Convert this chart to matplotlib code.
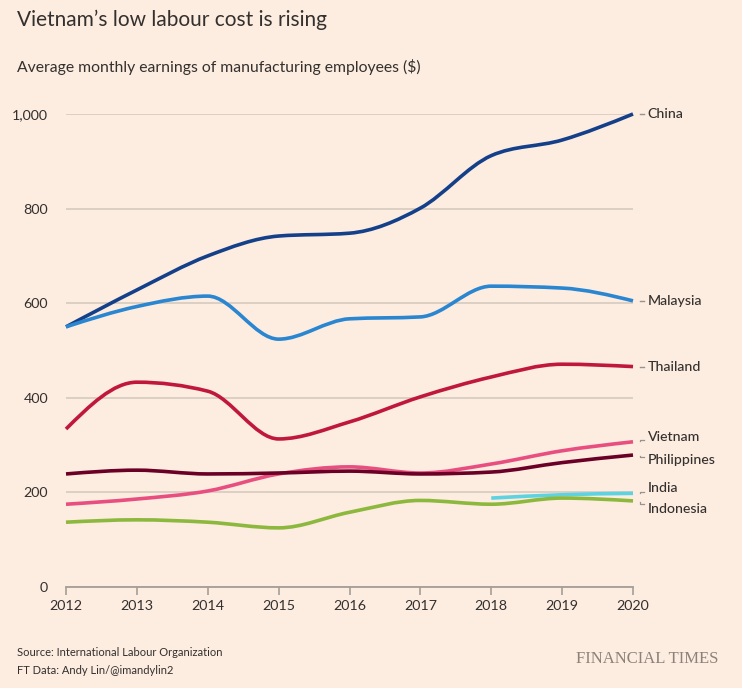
import numpy as np
import matplotlib
matplotlib.use('Agg')
import matplotlib.pyplot as plt
from matplotlib.path import Path
from matplotlib.patches import PathPatch
from matplotlib.ticker import FuncFormatter
import matplotlib.transforms as mtransforms

# data
years = [2012, 2013, 2014, 2015, 2016, 2017, 2018, 2019, 2020]
china = [550, 628, 700, 742, 748, 801, 912, 945, 1000]
malaysia = [550, 593, 615, 524, 567, 571, 636, 632, 605]
thailand = [334, 433, 414, 313, 349, 402, 444, 471, 466]
vietnam = [175, 186, 203, 239, 254, 241, 260, 288, 307]
philippines = [239, 247, 239, 241, 245, 239, 243, 263, 279]
india_years = [2018, 2019, 2020]
india = [188, 195, 198]
indonesia = [137, 142, 137, 125, 158, 183, 175, 188, 182]

series = [
    ('China', years, china, '#14408a'),
    ('Malaysia', years, malaysia, '#2a86d0'),
    ('Thailand', years, thailand, '#c0183c'),
    ('Vietnam', years, vietnam, '#e84f80'),
    ('Philippines', years, philippines, '#6b0027'),
    ('India', india_years, india, '#5dd3e2'),
    ('Indonesia', years, indonesia, '#8db83e'),
]
# where the end labels sit (data units on the y axis)
label_y = {'China': 1000, 'Malaysia': 605, 'Thailand': 466, 'Vietnam': 317,
           'Philippines': 269, 'India': 209, 'Indonesia': 165}

BG = '#fdece0'
TXT = '#33302e'
plt.rcParams['font.family'] = ['Lato', 'DejaVu Sans']


def monotone_path(xs, ys):
    # d3 curveMonotoneX style bezier segments
    xs = np.asarray(xs, float)
    ys = np.asarray(ys, float)
    n = len(xs)
    h = np.diff(xs)
    s = np.diff(ys) / h
    t = np.zeros(n)
    for i in range(1, n - 1):
        p = (s[i - 1] * h[i] + s[i] * h[i - 1]) / (h[i - 1] + h[i])
        t[i] = (np.sign(s[i - 1]) + np.sign(s[i])) * min(abs(s[i - 1]), abs(s[i]), 0.5 * abs(p))
    t[0] = (3 * s[0] - t[1]) / 2
    t[-1] = (3 * s[-1] - t[-2]) / 2
    verts = [(xs[0], ys[0])]
    codes = [Path.MOVETO]
    for i in range(n - 1):
        dx = h[i] / 3
        verts += [(xs[i] + dx, ys[i] + dx * t[i]),
                  (xs[i + 1] - dx, ys[i + 1] - dx * t[i + 1]),
                  (xs[i + 1], ys[i + 1])]
        codes += [Path.CURVE4] * 3
    return Path(verts, codes)


fig = plt.figure(figsize=(7.42, 6.88), dpi=100, facecolor=BG)
ax = fig.add_axes([66 / 742, 1 - 587 / 688, 567 / 742, 473 / 688])
ax.set_facecolor(BG)

ax.set_xlim(2012, 2020)
ax.set_ylim(0, 1000)
ax.set_yticks([0, 200, 400, 600, 800, 1000])
ax.set_xticks(years)
ax.yaxis.set_major_formatter(FuncFormatter(lambda v, p: f'{int(v):,}'))
ax.grid(axis='y', color='#d9ccc0', linewidth=1.3)
ax.set_axisbelow(True)
for sp in ['left', 'right', 'top']:
    ax.spines[sp].set_visible(False)
ax.spines['bottom'].set_color('#a59d96')
ax.spines['bottom'].set_linewidth(1.3)
ax.tick_params(axis='y', length=0, pad=13, labelsize=10.3, labelcolor=TXT)
ax.tick_params(axis='x', length=6, width=1.2, color='#a59d96', pad=3,
               labelsize=10.3, labelcolor=TXT)

trans = mtransforms.blended_transform_factory(ax.transAxes, ax.transData)
for name, xs, ys, col in series:
    patch = PathPatch(monotone_path(xs, ys), facecolor='none', edgecolor=col,
                      linewidth=2.6, capstyle='butt', clip_on=False, zorder=3)
    ax.add_patch(patch)
    ly = label_y[name]
    ax.text(1.026, ly, name, transform=trans, fontsize=10.2, color=TXT,
            fontweight='medium', va='center', ha='left')
    if abs(ly - ys[-1]) < 3:
        ax.plot([1.0125, 1.019], [ly, ly], transform=trans, color='#9a938d',
                linewidth=1, clip_on=False)
    else:
        mid = ys[-1] + (ly - ys[-1]) * 0.35
        ax.plot([1.0125, 1.0125, 1.019], [ys[-1] + (ly - ys[-1]) * 0.1, mid, mid],
                transform=trans, color='#9a938d', linewidth=0.9, clip_on=False)

fig.text(17 / 742, 1 - 20 / 688, "Vietnam\u2019s low labour cost is rising",
         fontsize=15, color=TXT, va='center', ha='left')
fig.text(17 / 742, 1 - 67 / 688, "Average monthly earnings of manufacturing employees ($)",
         fontsize=11.3, color=TXT, va='center', ha='left')
fig.text(17 / 742, 1 - 652 / 688, "Source: International Labour Organization",
         fontsize=8, color=TXT, va='center', ha='left')
fig.text(17 / 742, 1 - 670 / 688, "FT Data: Andy Lin/@imandylin2",
         fontsize=8, color=TXT, va='center', ha='left')
fig.text(718 / 742, 1 - 659 / 688, "FINANCIAL TIMES", fontsize=12, color='#8c8279',
         va='center', ha='right', family='Liberation Serif')

fig.savefig('out.png', dpi=100, facecolor=BG)
plt.close(fig)
